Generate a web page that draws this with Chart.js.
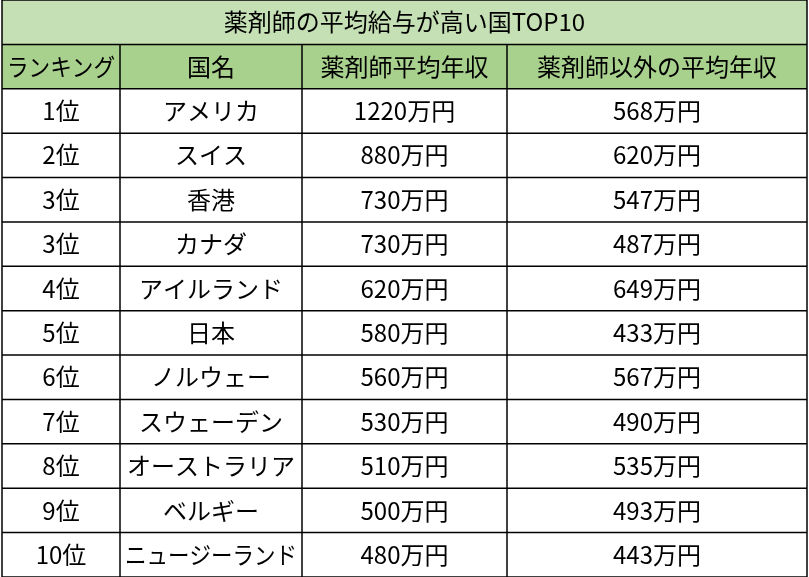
<!DOCTYPE html>
<html><head><meta charset="utf-8">
<script src="https://cdn.jsdelivr.net/npm/chart.js@4.4.0/dist/chart.umd.min.js"></script>
<style>html,body{margin:0;padding:0;background:#fff}#wrap{width:809px;height:577px}</style>
</head><body><div id="wrap"><canvas id="c"></canvas></div>
<script>
const title = '薬剤師の平均給与が高い国TOP10';
const headers = ['ランキング', '国名', '薬剤師平均年収', '薬剤師以外の平均年収'];
const ranks = ['1位','2位','3位','3位','4位','5位','6位','7位','8位','9位','10位'];
const countries = ['アメリカ','スイス','香港','カナダ','アイルランド','日本','ノルウェー','スウェーデン','オーストラリア','ベルギー','ニュージーランド'];
const pharmacistPay = [1220, 880, 730, 730, 620, 580, 560, 530, 510, 500, 480];
const otherPay = [568, 620, 547, 487, 649, 433, 567, 490, 535, 493, 443];
const colEdges = [2, 120, 302, 507, 807];

// ── Table drawn on the chart's scales ─────────────────────────
const tablePlugin = {
    id: 'table',
    afterDraw(chart) {
        const ctx = chart.ctx, x = chart.scales.x, y = chart.scales.y;
        const rows = [headers].concat(ranks.map((r, i) =>
            [r, countries[i], pharmacistPay[i] + '万円', otherPay[i] + '万円']));
        const X = v => x.getPixelForValue(v), Y = v => y.getPixelForValue(v);
        ctx.save();
        ctx.fillStyle = '#c5e0b4';
        ctx.fillRect(X(colEdges[0]), Y(0), X(colEdges[4]) - X(colEdges[0]), Y(1) - Y(0));
        ctx.fillStyle = '#a9d18e';
        ctx.fillRect(X(colEdges[0]), Y(1), X(colEdges[4]) - X(colEdges[0]), Y(2) - Y(1));
        ctx.strokeStyle = '#000'; ctx.lineWidth = 1.5;
        for (let r = 0; r <= 13; r++) {
            ctx.beginPath(); ctx.moveTo(X(colEdges[0]), Y(r)); ctx.lineTo(X(colEdges[4]), Y(r)); ctx.stroke();
        }
        colEdges.forEach((c, i) => {
            const top = (i === 0 || i === 4) ? 0 : 1;
            ctx.beginPath(); ctx.moveTo(X(c), Y(top)); ctx.lineTo(X(c), Y(13)); ctx.stroke();
        });
        ctx.fillStyle = '#000'; ctx.textAlign = 'center'; ctx.textBaseline = 'middle';
        ctx.font = '24px "Noto Sans CJK JP", sans-serif';
        ctx.fillText(title, (X(colEdges[0]) + X(colEdges[4])) / 2, Y(0.5));
        rows.forEach((row, r) => {
            row.forEach((t, c) => {
                const w = X(colEdges[c + 1]) - X(colEdges[c]) - 10;
                ctx.fillText(t, (X(colEdges[c]) + X(colEdges[c + 1])) / 2, Y(r + 1.5), w);
            });
        });
        ctx.restore();
    }
};

new Chart(document.getElementById('c').getContext('2d'), {
    type: 'scatter',
    data: { datasets: [{ data: [], pointRadius: 0 }] },
    options: {
        responsive: true, maintainAspectRatio: false, animation: false,
        layout: { padding: 0 },
        plugins: { legend: { display: false }, tooltip: { enabled: false } },
        scales: {
            x: { type: 'linear', min: 0, max: 809, display: false },
            y: { type: 'linear', min: 0, max: 13, reverse: true, display: false }
        }
    },
    plugins: [tablePlugin]
});
</script></body></html>
